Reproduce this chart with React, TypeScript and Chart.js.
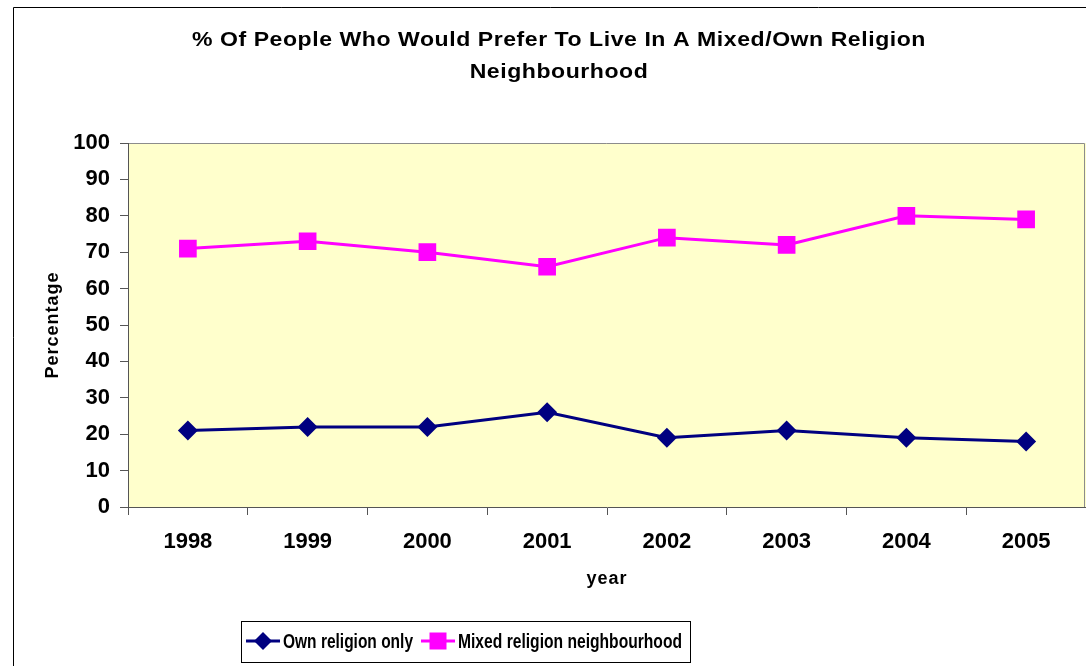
import React, { useEffect, useRef } from "react";
import { Chart, registerables } from "chart.js";

Chart.register(...registerables);

// Survey years and percentages for each neighbourhood preference
const years = ["1998", "1999", "2000", "2001", "2002", "2003", "2004", "2005"];
const ownReligionOnly = [21, 22, 22, 26, 19, 21, 19, 18];
const mixedReligion = [71, 73, 70, 66, 74, 72, 80, 79];

const seriesNames = ["Own religion only", "Mixed religion neighbourhood"];
const titleLines = [
  "% Of People Who Would Prefer To Live In A Mixed/Own Religion",
  "Neighbourhood",
];
const yAxisTitle = "Percentage";
const xAxisTitle = "year";
const yMin = 0;
const yMax = 100;
const yStep = 10;

const NAVY = "#000080";
const MAGENTA = "#FF00FF";
const PLOT_BG = "#FFFFCC";
const AXIS = "#555555";
const FRAME = "#8C8C8C";
const FONT = "'Liberation Sans', Arial, sans-serif";
const NARROW = "'Liberation Sans Narrow', 'Liberation Sans', Arial, sans-serif";

function drawMarker(ctx: CanvasRenderingContext2D, kind: string, x: number, y: number, color: string) {
  ctx.fillStyle = color;
  ctx.beginPath();
  if (kind === "diamond") {
    const r = 9;
    ctx.moveTo(x, y - r);
    ctx.lineTo(x + r, y);
    ctx.lineTo(x, y + r);
    ctx.lineTo(x - r, y);
    ctx.closePath();
  } else {
    const h = 8.5;
    ctx.rect(x - h, y - h, 2 * h, 2 * h);
  }
  ctx.fill();
}

// text squeezed/stretched horizontally to a given width
function fitText(ctx: CanvasRenderingContext2D, text: string, x: number, y: number, sx: number) {
  ctx.save();
  ctx.translate(x, y);
  ctx.scale(sx, 1);
  ctx.fillText(text, 0, 0);
  ctx.restore();
}

const decorations = {
  id: "excelDecor",
  beforeDraw(chart: Chart) {
    const { ctx, chartArea: a, width, height } = chart;
    ctx.save();
    ctx.fillStyle = "#FFFFFF";
    ctx.fillRect(0, 0, width, height);
    // outer chart border (left and top visible)
    ctx.strokeStyle = "#000000";
    ctx.lineWidth = 1;
    ctx.beginPath();
    ctx.moveTo(13.5, height + 5);
    ctx.lineTo(13.5, 7.5);
    ctx.lineTo(width + 5, 7.5);
    ctx.stroke();
    // plot area
    ctx.fillStyle = PLOT_BG;
    ctx.fillRect(a.left, a.top, a.right - a.left, a.bottom - a.top);
    ctx.strokeStyle = FRAME;
    ctx.beginPath();
    ctx.moveTo(a.left, a.top + 0.5);
    ctx.lineTo(a.right - 1.5, a.top + 0.5);
    ctx.lineTo(a.right - 1.5, a.bottom);
    ctx.stroke();
    ctx.restore();
  },
  afterDraw(chart: Chart) {
    const { ctx, chartArea: a } = chart;
    ctx.save();
    ctx.fillStyle = "#000000";
    ctx.textBaseline = "alphabetic";

    // title, two centred lines
    ctx.textAlign = "center";
    ctx.font = `bold 21px ${FONT}`;
    (ctx as any).letterSpacing = "0.5px";
    const w0 = ctx.measureText(titleLines[0]).width;
    const sx = 734 / w0;
    fitText(ctx, titleLines[0], 559, 46, sx);
    fitText(ctx, titleLines[1], 559, 78, sx);

    // axis titles
    (ctx as any).letterSpacing = "1px";
    ctx.font = `bold 18px ${FONT}`;
    ctx.fillText(xAxisTitle, (a.left + a.right) / 2, 584);
    ctx.save();
    ctx.translate(58, (a.top + a.bottom) / 2);
    ctx.rotate(-Math.PI / 2);
    ctx.fillText(yAxisTitle, 0, 0);
    ctx.restore();
    (ctx as any).letterSpacing = "0px";

    // legend
    const box = { x: 241.5, y: 621.5, w: 449, h: 41 };
    ctx.fillStyle = "#FFFFFF";
    ctx.fillRect(box.x, box.y, box.w, box.h);
    ctx.strokeStyle = "#000000";
    ctx.lineWidth = 1;
    ctx.strokeRect(box.x, box.y, box.w, box.h);

    const items = [
      { name: seriesNames[0], color: NAVY, marker: "diamond", x: 246, textW: 130 },
      { name: seriesNames[1], color: MAGENTA, marker: "square", x: 421, textW: 224 },
    ];
    const cy = 641;
    ctx.textAlign = "left";
    ctx.font = `bold 21px ${NARROW}`;
    for (const it of items) {
      ctx.strokeStyle = it.color;
      ctx.lineWidth = 3;
      ctx.beginPath();
      ctx.moveTo(it.x, cy);
      ctx.lineTo(it.x + 34, cy);
      ctx.stroke();
      drawMarker(ctx, it.marker, it.x + 17, cy, it.color);
      ctx.fillStyle = "#000000";
      const m = ctx.measureText(it.name).width;
      fitText(ctx, it.name, it.x + 37, 648, it.textW / m);
    }
    ctx.restore();
  },
};

export default function App() {
  const canvasRef = useRef<HTMLCanvasElement | null>(null);

  useEffect(() => {
    const canvas = canvasRef.current;
    if (!canvas) return;
    const chart = new Chart(canvas, {
      type: "line",
      data: {
        labels: years,
        datasets: [
          {
            label: seriesNames[0],
            data: ownReligionOnly,
            borderColor: NAVY,
            backgroundColor: NAVY,
            borderWidth: 3,
            pointStyle: "rectRot",
            pointRadius: 10,
            pointHoverRadius: 10,
            pointBorderWidth: 0,
            tension: 0,
          },
          {
            label: seriesNames[1],
            data: mixedReligion,
            borderColor: MAGENTA,
            backgroundColor: MAGENTA,
            borderWidth: 3,
            pointStyle: "rect",
            pointRadius: 12.5,
            pointHoverRadius: 12.5,
            pointBorderWidth: 0,
            tension: 0,
          },
        ],
      },
      options: {
        responsive: false,
        animation: false,
        events: [],
        layout: { autoPadding: false, padding: { top: 143, left: 0, right: 0, bottom: 0 } },
        plugins: {
          legend: { display: false },
          title: { display: false },
          tooltip: { enabled: false },
        },
        scales: {
          x: {
            offset: true,
            grid: {
              offset: true,
              drawOnChartArea: false,
              drawTicks: true,
              tickLength: 8,
              color: AXIS,
            },
            border: { color: AXIS, width: 1 },
            ticks: {
              color: "#000000",
              font: { family: FONT, size: 22, weight: "bold" },
              padding: 14,
              maxRotation: 0,
            },
            afterFit: (s: any) => {
              s.height = 159;
              s.paddingLeft = 0;
              s.paddingRight = 0;
            },
          },
          y: {
            min: yMin,
            max: yMax,
            grid: {
              drawOnChartArea: false,
              drawTicks: true,
              tickLength: 8,
              color: AXIS,
            },
            border: { color: AXIS, width: 1 },
            ticks: {
              stepSize: yStep,
              color: "#000000",
              font: { family: FONT, size: 22, weight: "bold" },
              padding: 10,
            },
            afterFit: (s: any) => {
              s.width = 128;
              s.paddingTop = 0;
              s.paddingBottom = 0;
            },
          },
        },
      },
      plugins: [decorations],
    });
    return () => chart.destroy();
  }, []);

  return (
    <div style={{ position: "absolute", left: 0, top: 0, width: 1086, height: 666 }}>
      <canvas ref={canvasRef} width={1086} height={666} />
    </div>
  );
}
